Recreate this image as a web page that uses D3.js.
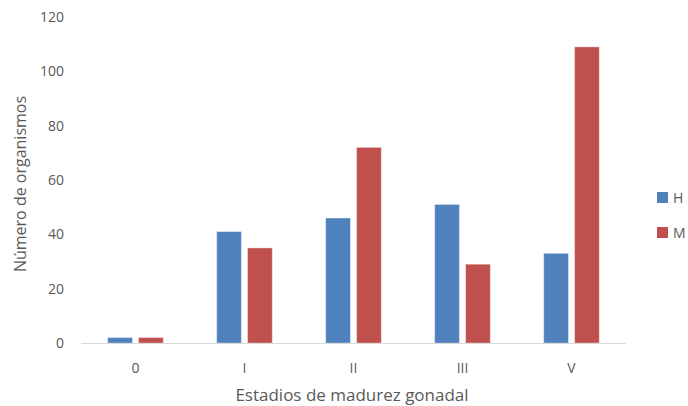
<!DOCTYPE html>
<html>
<head>
<meta charset="utf-8">
<script src="https://cdn.jsdelivr.net/npm/d3@7"></script>
<style>
  body { margin: 0; background: #fff; }
  text { font-family: "Open Sans", "Noto Sans", sans-serif; fill: #595959; }
</style>
</head>
<body>
<div id="container"></div>
<script>
//chart data
var categories = ["0", "I", "II", "III", "V"];
var seriesNames = ["H", "M"];
var valuesH = [2, 41, 46, 51, 33];
var valuesM = [2, 35, 72, 29, 109];
var yTicks = [0, 20, 40, 60, 80, 100, 120];
var colors = ["#4F81BD", "#C0504D"];

var width = 688, height = 406;
var margin = {left: 81, right: 62, top: 17, bottom: 63};

var svg = d3.select("#container")
    .append("svg")
    .attr("width", width)
    .attr("height", height);

var x = d3.scaleBand()
    .domain(categories)
    .range([margin.left, width - margin.right]);

var xInner = d3.scaleBand()
    .domain(seriesNames)
    .range([x.bandwidth() * 0.245, x.bandwidth() * 0.755])
    .paddingInner(0.2);

var y = d3.scaleLinear()
    .domain([0, 120])
    .range([height - margin.bottom, margin.top]);

//y tick labels
svg.selectAll(".ytick")
    .data(yTicks)
    .enter()
    .append("text")
    .attr("x", margin.left - 17)
    .attr("y", function(d){ return y(d); })
    .attr("dy", "0.36em")
    .attr("text-anchor", "end")
    .style("font-size", "14px")
    .text(function(d){ return d; });

//bars
var rows = categories.map(function(c, i){
    return [{s: "H", c: c, v: valuesH[i]}, {s: "M", c: c, v: valuesM[i]}];
});

svg.selectAll(".group")
    .data(rows)
    .enter()
    .append("g")
    .attr("transform", function(d){ return "translate(" + x(d[0].c) + ",0)"; })
    .selectAll("rect")
    .data(function(d){ return d; })
    .enter()
    .append("rect")
    .attr("x", function(d){ return xInner(d.s); })
    .attr("width", xInner.bandwidth())
    .attr("y", function(d){ return y(d.v); })
    .attr("height", function(d){ return y(0) - y(d.v); })
    .attr("fill", function(d){ return colors[seriesNames.indexOf(d.s)]; })
    .attr("stroke", "#ffffff")
    .attr("stroke-opacity", 0.35)
    .attr("stroke-width", 1);

//x axis line
svg.append("line")
    .attr("x1", margin.left)
    .attr("x2", width - margin.right)
    .attr("y1", y(0) + 0.5)
    .attr("y2", y(0) + 0.5)
    .attr("stroke", "#D9D9D9")
    .attr("stroke-width", 1);

//x tick labels
svg.selectAll(".xtick")
    .data(categories)
    .enter()
    .append("text")
    .attr("x", function(d){ return x(d) + x.bandwidth() / 2; })
    .attr("y", y(0) + 30)
    .attr("text-anchor", "middle")
    .style("font-size", "14px")
    .text(function(d){ return d; });

//axis titles
svg.append("text")
    .attr("x", 352)
    .attr("y", 401)
    .attr("text-anchor", "middle")
    .style("font-size", "17px")
    .text("Estadios de madurez gonadal");

svg.append("text")
    .attr("transform", "translate(26," + 184 + ") rotate(-90)")
    .attr("text-anchor", "middle")
    .style("font-size", "16px")
    .text("Número de organismos");

//legend
var legend = svg.selectAll(".legend")
    .data(seriesNames)
    .enter()
    .append("g")
    .attr("transform", function(d, i){ return "translate(657," + (192 + i * 35) + ")"; });

legend.append("rect")
    .attr("width", 11)
    .attr("height", 11)
    .attr("fill", function(d, i){ return colors[i]; });

legend.append("text")
    .attr("x", 16)
    .attr("y", 6)
    .attr("dy", "0.36em")
    .style("font-size", "14px")
    .text(function(d){ return d; });
</script>
</body>
</html>
